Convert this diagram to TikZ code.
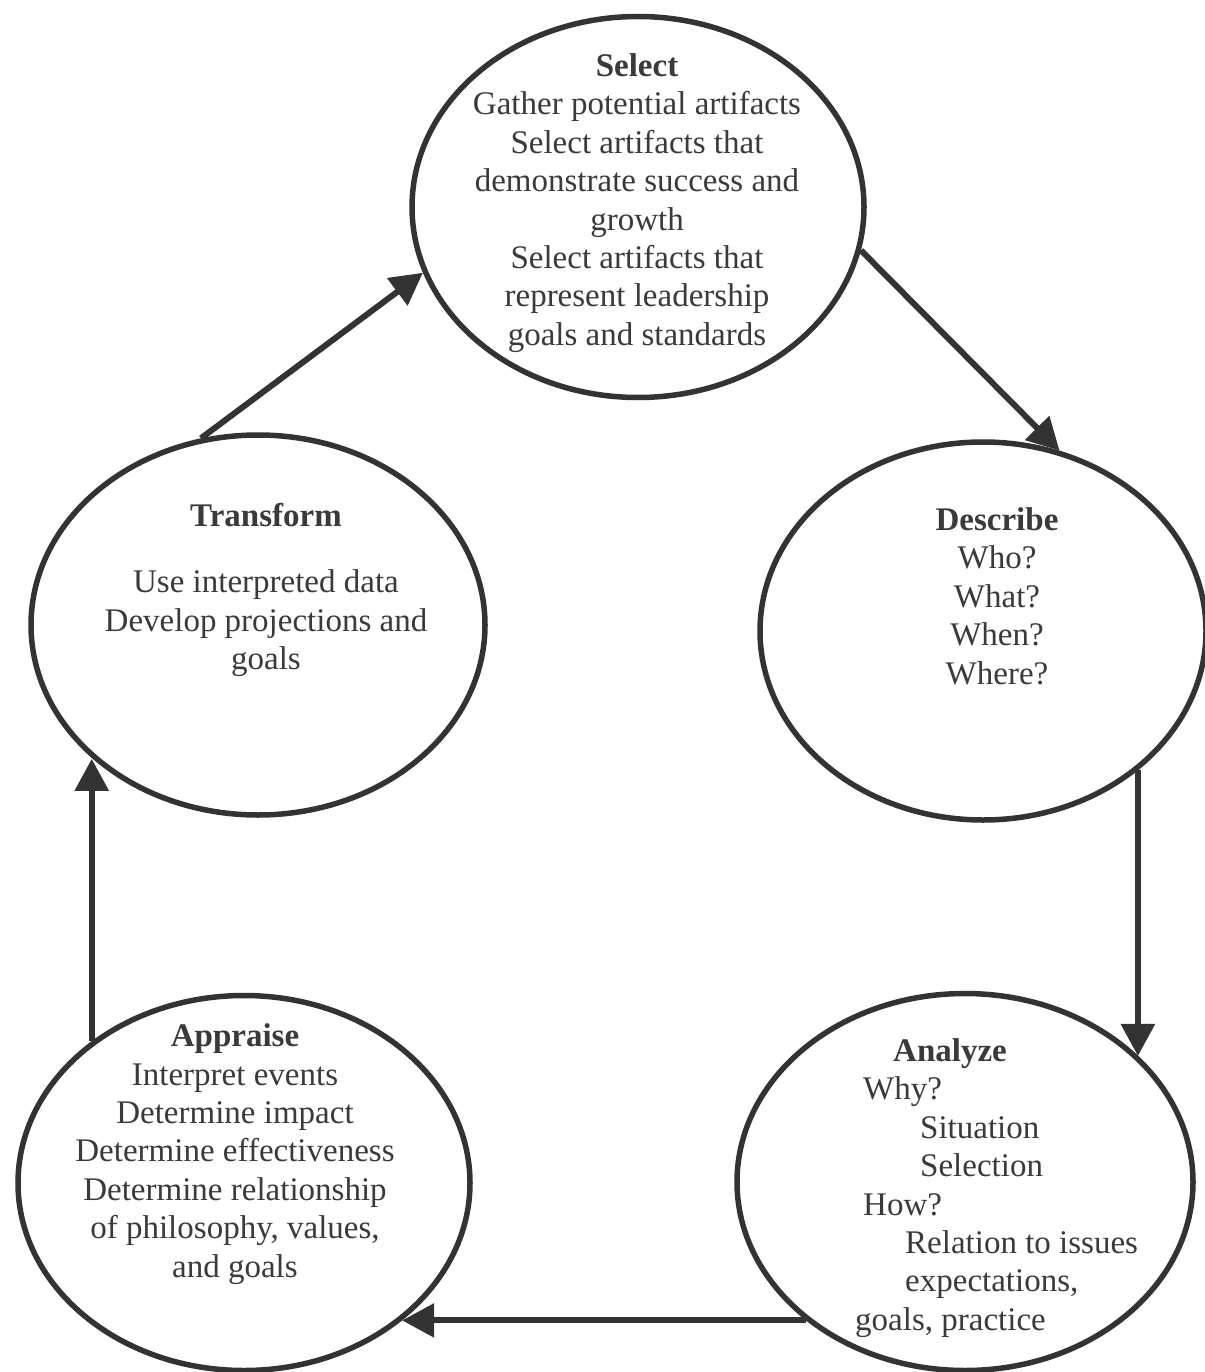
\documentclass[tikz,border=0pt]{standalone}
\usepackage{fontspec}
\setmainfont{Liberation Serif}
\usetikzlibrary{shapes.geometric,arrows.meta}
\definecolor{ink}{HTML}{333333}
\definecolor{txt}{HTML}{3A3A3A}
\begin{document}
\begin{tikzpicture}[x=1pt,y=-1pt,
  stage/.style={draw=ink, line width=5.5pt, ellipse, inner sep=0pt},
  stagetext/.style={text=txt, font=\fontsize{33}{38.4}\selectfont, align=center, inner sep=0pt},
  flow/.style={draw=ink, line width=6pt, -{Triangle[length=32pt,width=33pt]}}
]
\fill[white] (0,0) rectangle (1204,1372);
\useasboundingbox (0,0) rectangle (1204,1372);

% stages
\node[stage, minimum width=452pt, minimum height=381pt] (sel) at (638,207) {};
\node[stage, minimum width=446pt, minimum height=378pt] (desc) at (983,631) {};
\node[stage, minimum width=454pt, minimum height=380pt] (tra) at (258,625) {};
\node[stage, minimum width=452pt, minimum height=375pt] (app) at (244,1183) {};
\node[stage, minimum width=456pt, minimum height=377pt] (ana) at (965,1182) {};

% texts
\node[stagetext] (selt) at (637,203) {\textbf{Select}\\Gather potential artifacts\\Select artifacts that\\demonstrate success and\\growth\\Select artifacts that\\represent leadership\\goals and standards};
\node[stagetext] (desct) at (997,596) {\textbf{Describe}\\Who?\\What?\\When?\\Where?};
\node[stagetext] (trat) at (266,590) {\textbf{Transform}\\[28pt]Use interpreted data\\Develop projections and\\goals};
\node[stagetext] (appt) at (235,1154) {\textbf{Appraise}\\Interpret events\\Determine impact\\Determine effectiveness\\Determine relationship\\of philosophy, values,\\and goals};
\node[stagetext, align=left, anchor=west] (anat) at (855,1188) {\hspace*{38pt}\textbf{Analyze}\\\hspace*{8pt}Why?\\\hspace*{65pt}Situation\\\hspace*{65pt}Selection\\\hspace*{8pt}How?\\\hspace*{50pt}Relation to issues\\\hspace*{50pt}expectations,\\goals, practice};

% flow
\draw[flow] (tra.107) -- (sel.197);
\draw[flow] (sel.-11) -- (desc.67);
\draw[flow] (desc.-42) -- (desc.-42 |- ana.36);
\draw[flow] (ana.221) -- (ana.221 -| app.-41);
\draw[flow] (app.137) -- (app.137 |- tra.219);
\end{tikzpicture}
\end{document}
